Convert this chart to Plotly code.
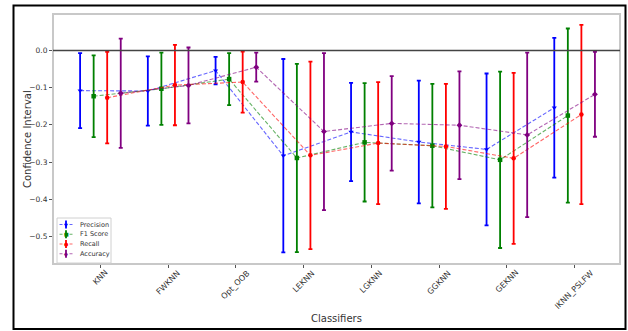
import plotly.graph_objects as go

classifiers = ["KNN", "FWKNN", "Opt_OOB", "LEKNN", "LGKNN", "GGKNN", "GEKNN", "IKNN_PSLFW"]

precision_mean = [-0.108, -0.109, -0.054, -0.283, -0.219, -0.246, -0.266, -0.154]
precision_err = [0.101, 0.093, 0.037, 0.260, 0.132, 0.165, 0.204, 0.188]

f1_mean = [-0.123, -0.103, -0.077, -0.289, -0.247, -0.256, -0.294, -0.175]
f1_err = [0.110, 0.097, 0.070, 0.253, 0.159, 0.166, 0.237, 0.234]

recall_mean = [-0.127, -0.093, -0.085, -0.282, -0.249, -0.258, -0.290, -0.172]
recall_err = [0.123, 0.108, 0.082, 0.252, 0.164, 0.168, 0.230, 0.241]

accuracy_mean = [-0.115, -0.094, -0.045, -0.218, -0.196, -0.201, -0.227, -0.118]
accuracy_err = [0.147, 0.102, 0.039, 0.211, 0.127, 0.145, 0.221, 0.114]

y_ticks = [0.0, -0.1, -0.2, -0.3, -0.4, -0.5]

series = [
    ("Precision", precision_mean, precision_err, -0.3, (0, 0, 255), "triangle-down", "\u25BC"),
    ("F1 Score", f1_mean, f1_err, -0.1, (0, 128, 0), "square", "\u25A0"),
    ("Recall", recall_mean, recall_err, 0.1, (255, 0, 0), "circle", "\u25CF"),
    ("Accuracy", accuracy_mean, accuracy_err, 0.3, (128, 0, 128), "diamond", "\u25C6"),
]

fig = go.Figure()
for name, mean, err, off, (r, g, b), sym, _g in series:
    xs = [i + off for i in range(len(classifiers))]
    fig.add_trace(go.Scatter(
        x=xs, y=mean, name=name, mode="lines+markers", showlegend=False,
        line=dict(color=f"rgba({r},{g},{b},0.6)", width=1.1, dash="4px,2px"),
        marker=dict(color=f"rgb({r},{g},{b})", symbol=sym, size=4.5),
        error_y=dict(type="data", array=err, symmetric=True,
                     color=f"rgb({r},{g},{b})", thickness=1.8, width=2),
    ))

# geometry helpers (pixel -> paper coords relative to plot area)
L, R, T, B = 53, 620, 14, 264
W, H = R - L, B - T
def px(x):
    return (x - L) / W
def py(y):
    return (B - y) / H

# outer frame and plot-area border
fig.add_shape(type="rect", xref="paper", yref="paper",
              x0=px(13.5), x1=px(625.5), y0=py(329), y1=py(5.5),
              line=dict(color="black", width=2), layer="below")
fig.add_shape(type="rect", xref="paper", yref="paper",
              x0=0, x1=1, y0=0, y1=1,
              line=dict(color="#c8c8c8", width=2), layer="below")
fig.add_hline(y=0, line=dict(color="#444444", width=1.5))

# x tick labels centred under ticks (matplotlib rotation=45, ha='center')
for i, lab in enumerate(classifiers):
    fig.add_annotation(xref="x", yref="paper", x=i, y=py(267), text=lab,
                       textangle=-45, showarrow=False, xanchor="center", yanchor="top",
                       borderpad=0, font=dict(size=8, color="#333333"))

# axis titles
fig.add_annotation(xref="paper", yref="paper", x=0.5, y=py(318), text="Classifiers",
                   showarrow=False, xanchor="center", yanchor="middle",
                   font=dict(size=10, color="#333333"))
fig.add_annotation(xref="paper", yref="paper", x=px(27), y=0.5, text="Confidence Interval",
                   textangle=-90, showarrow=False, xanchor="center", yanchor="middle",
                   font=dict(size=10, color="#333333"))

# compact legend (matplotlib style)
fig.add_shape(type="rect", xref="paper", yref="paper",
              x0=px(57), x1=px(111), y0=py(263), y1=py(218),
              line=dict(color="#d0d0d0", width=1), fillcolor="white")
row_y = [224.5, 234.2, 244.0, 253.8]
for (name, mean, err, off, (r, g, b), sym, glyph), yy in zip(series, row_y):
    col = f"rgb({r},{g},{b})"
    fig.add_shape(type="line", xref="paper", yref="paper",
                  x0=px(59.5), x1=px(72.5), y0=py(yy), y1=py(yy),
                  line=dict(color=f"rgba({r},{g},{b},0.6)", width=1.1, dash="3px,2px"))
    fig.add_shape(type="line", xref="paper", yref="paper",
                  x0=px(66), x1=px(66), y0=py(yy - 4), y1=py(yy + 4),
                  line=dict(color=col, width=1.8))
    fig.add_annotation(xref="paper", yref="paper", x=px(66), y=py(yy),
                       text=glyph, showarrow=False, xanchor="center", yanchor="middle",
                       font=dict(size=5, color=col))
    fig.add_annotation(xref="paper", yref="paper", x=px(78), y=py(yy),
                       text=name, showarrow=False, xanchor="left", yanchor="middle",
                       font=dict(size=6.5, color="#333333"))

fig.update_layout(
    width=628, height=331,
    margin=dict(l=L, r=628 - R, t=T, b=331 - B, autoexpand=False),
    paper_bgcolor="white", plot_bgcolor="white",
    font=dict(family="DejaVu Sans", color="#333333", size=7),
    showlegend=False,
    xaxis=dict(
        range=[-0.70, 7.67], tickmode="array", automargin=False,
        tickvals=list(range(len(classifiers))), showticklabels=False,
        ticks="outside", ticklen=3, tickcolor="#555555",
        showgrid=False, zeroline=False, showline=False,
    ),
    yaxis=dict(
        range=[-0.574, 0.098], tickmode="array", automargin=False,
        tickvals=y_ticks,
        ticktext=[f"{v:.1f}".replace("-", "\u2212") for v in y_ticks],
        ticks="outside", ticklen=3, tickcolor="#555555",
        showgrid=False, zeroline=False, showline=False,
        tickfont=dict(size=7.5, color="#333333"),
    ),
)

fig.write_html("out.html", config={"displayModeBar": False},
               post_script="document.body.style.margin='0px';document.body.style.overflow='hidden';")
